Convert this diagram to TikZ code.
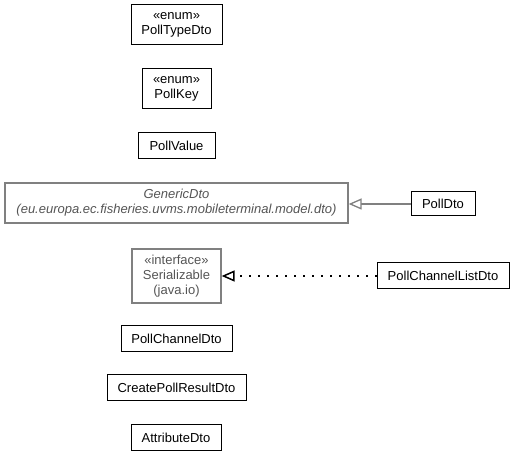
\documentclass[tikz,border=0pt]{standalone}
\usepackage{fontspec}
\setmainfont{Liberation Sans}
\usetikzlibrary{arrows.meta}
\definecolor{gline}{HTML}{808080}
\definecolor{gtext}{HTML}{555555}
\tikzset{
  box/.style={draw=black, line width=1pt, fill=white, align=center, inner sep=0pt,
    font=\fontsize{13}{15}\selectfont},
  gbox/.style={draw=gline, line width=1.3pt, fill=white, align=center, inner sep=0pt,
    text=gtext, font=\fontsize{13}{15}\selectfont},
  gen/.style={draw=gline, line width=1.3pt, -{Triangle[open, length=13pt, width=11pt, fill=white]}},
  real/.style={draw=black, line width=1.5pt, dash pattern=on 1.5pt off 7.5pt,
    -{Triangle[open, length=13pt, width=11pt, fill=white, line width=1.5pt, sep=0pt]}},
}
\begin{document}
\begin{tikzpicture}[x=1pt,y=1pt]
\useasboundingbox (0,0) rectangle (515,-457);
\node[box, minimum width=91pt, minimum height=40pt] (ptd) at (176.5,-25) {«enum»\\PollTypeDto};
\node[box, minimum width=69pt, minimum height=40pt] (pk) at (176.5,-89) {«enum»\\PollKey};
\node[box, minimum width=77pt, minimum height=26pt] (pv) at (176.5,-146) {PollValue};
\node[gbox, minimum width=343pt, minimum height=40pt] (gd) at (176.5,-203) {\itshape GenericDto\\\itshape (eu.europa.ec.fisheries.uvms.mobileterminal.model.dto)};
\node[box, minimum width=64pt, minimum height=24pt] (pd) at (443,-204) {PollDto};
\node[gbox, minimum width=89pt, minimum height=54pt] (ser) at (176.5,-276) {«interface»\\Serializable\\(java.io)};
\node[box, minimum width=132pt, minimum height=26pt] (pcl) at (443,-276) {PollChannelListDto};
\node[box, minimum width=111pt, minimum height=26pt] (pc) at (176.5,-339) {PollChannelDto};
\node[box, minimum width=139pt, minimum height=26pt] (cpr) at (176.5,-388) {CreatePollResultDto};
\node[box, minimum width=90pt, minimum height=26pt] (ad) at (176,-438) {AttributeDto};
\draw[gen] (pd.west) -- (gd.east |- pd.west);
\draw[real] (pcl.west) -- (ser.east |- pcl.west);
\end{tikzpicture}
\end{document}
